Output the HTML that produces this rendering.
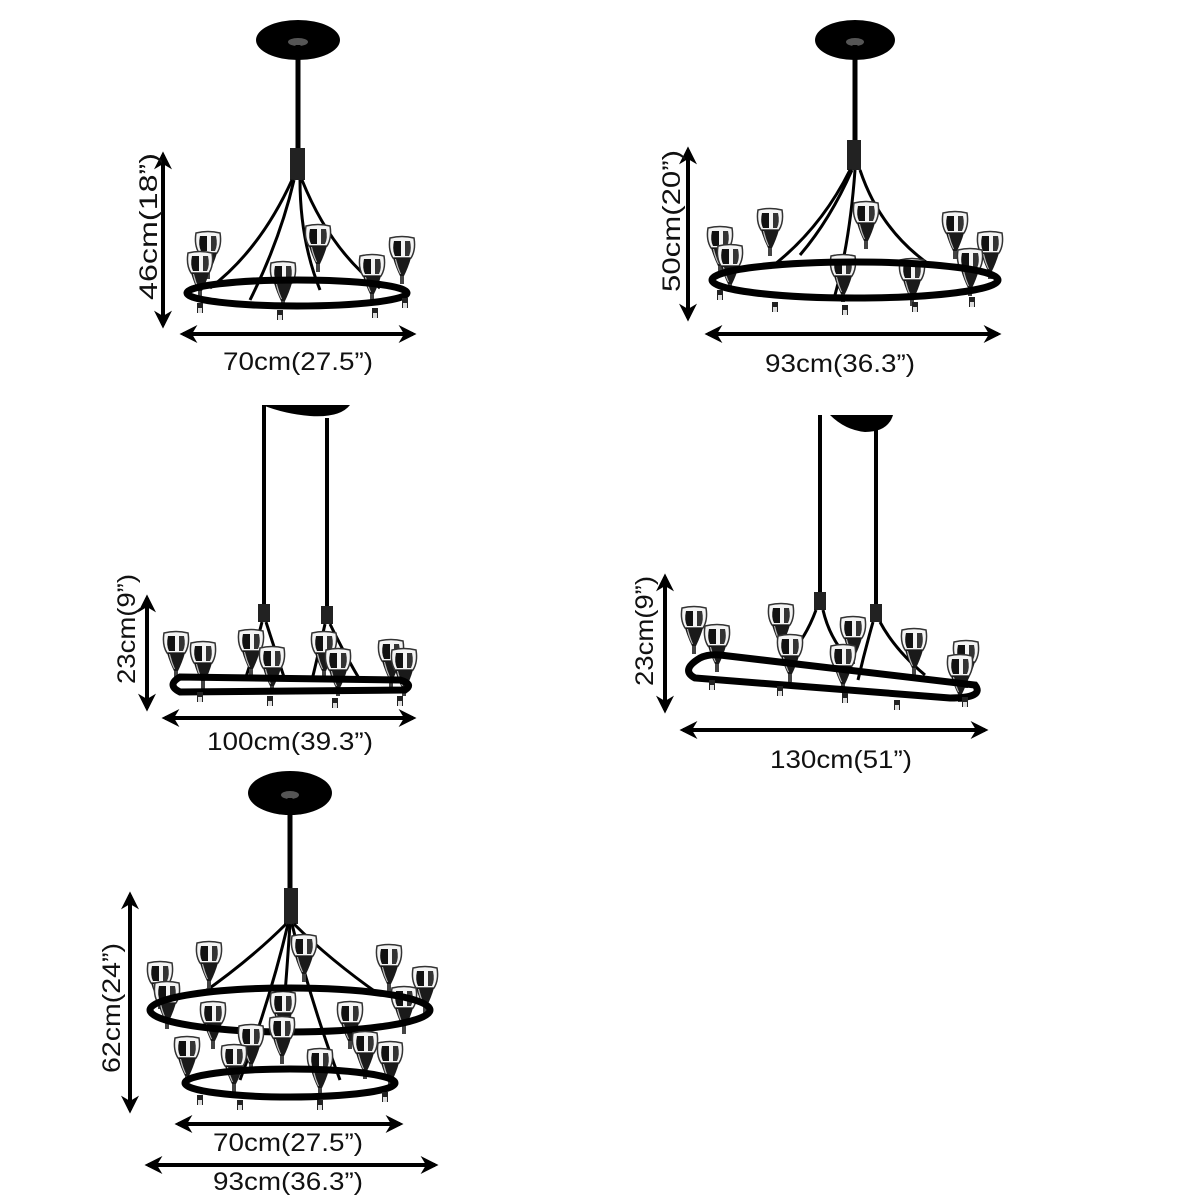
<!DOCTYPE html>
<html><head><meta charset="utf-8"><style>
html,body{margin:0;padding:0;background:#fff;}
svg{display:block}
text{font-family:"Liberation Sans",sans-serif;font-size:25px;fill:#111;}
</style></head><body>
<svg width="1200" height="1200" viewBox="0 0 1200 1200" xmlns="http://www.w3.org/2000/svg">
<defs>
<marker id="ah" viewBox="0 0 10 10" refX="8" refY="5" markerWidth="4.5" markerHeight="4.5" orient="auto-start-reverse"><path d="M0,0 L10,5 L0,10 L3,5 z" fill="#000"/></marker>
<g id="lamp">
<path d="M-12,-12 Q-14,0 -9,8 L9,8 Q14,0 12,-12 Q0,-15 -12,-12 z" fill="#f4f4f4" stroke="#333" stroke-width="1.5"/>
<path d="M-8,-9 L-1,-9 L-1,6 L-7,6 Q-10,0 -8,-9z" fill="#111"/>
<path d="M3,-9 L8,-9 Q10,0 7,6 L3,6z" fill="#333"/>
<path d="M-9,8 L9,8 Q6,18 2,26 L-2,26 Q-6,18 -9,8z" fill="#1a1a1a"/>
<path d="M-6,9 Q-4,17 -1,24 L-2,24 Q-6,16 -7,9z" fill="#bbb"/>
<rect x="-2" y="26" width="4" height="8" fill="#444"/>
</g>
<g id="bead"><rect x="-3" y="0" width="6" height="10" fill="#222"/><rect x="-2" y="5" width="4" height="5" fill="#ddd"/></g>
</defs>
<g stroke="#000" stroke-width="4" fill="none" marker-start="url(#ah)" marker-end="url(#ah)">
<line x1="163" y1="155" x2="163" y2="325"/>
<line x1="183" y1="334" x2="413" y2="334"/>
<line x1="688" y1="150" x2="688" y2="318"/>
<line x1="708" y1="334" x2="998" y2="334"/>
<line x1="147" y1="598" x2="147" y2="708"/>
<line x1="165" y1="718" x2="413" y2="718"/>
<line x1="665" y1="577" x2="665" y2="710"/>
<line x1="683" y1="730" x2="985" y2="730"/>
<line x1="130" y1="895" x2="130" y2="1110"/>
<line x1="178" y1="1124" x2="400" y2="1124"/>
<line x1="148" y1="1165" x2="435" y2="1165"/>
</g>
<text x="223" y="370" textLength="150" lengthAdjust="spacingAndGlyphs">70cm(27.5”)</text>
<text x="765" y="372" textLength="150" lengthAdjust="spacingAndGlyphs">93cm(36.3”)</text>
<text x="207" y="750" textLength="166" lengthAdjust="spacingAndGlyphs">100cm(39.3”)</text>
<text x="770" y="768" textLength="142" lengthAdjust="spacingAndGlyphs">130cm(51”)</text>
<text x="213" y="1151" textLength="150" lengthAdjust="spacingAndGlyphs">70cm(27.5”)</text>
<text x="213" y="1190" textLength="150" lengthAdjust="spacingAndGlyphs">93cm(36.3”)</text>
<text transform="translate(157,300) rotate(-90)" textLength="147" lengthAdjust="spacingAndGlyphs">46cm(18”)</text>
<text transform="translate(680,292) rotate(-90)" textLength="142" lengthAdjust="spacingAndGlyphs">50cm(20”)</text>
<text transform="translate(135,684) rotate(-90)" textLength="110" lengthAdjust="spacingAndGlyphs">23cm(9”)</text>
<text transform="translate(653,686) rotate(-90)" textLength="110" lengthAdjust="spacingAndGlyphs">23cm(9”)</text>
<text transform="translate(120,1073) rotate(-90)" textLength="130" lengthAdjust="spacingAndGlyphs">62cm(24”)</text>

<!-- 1 -->
<ellipse cx="298" cy="40" rx="42" ry="20" fill="#000"/>
<ellipse cx="298" cy="42" rx="10" ry="4" fill="#555"/>
<line x1="298" y1="45" x2="298" y2="150" stroke="#000" stroke-width="5"/>
<rect x="290" y="148" width="15" height="32" fill="#222"/>
<g stroke="#000" stroke-width="3" fill="none">
<path d="M294,180 Q280,240 250,300"/><path d="M300,180 Q300,240 320,290"/><path d="M302,180 Q330,250 380,288"/><path d="M292,180 Q260,250 210,288"/>
</g>
<use href="#lamp" x="208" y="245"/><use href="#lamp" x="200" y="265"/><use href="#lamp" x="318" y="238"/><use href="#lamp" x="402" y="250"/><use href="#lamp" x="372" y="268"/><use href="#lamp" x="283" y="275"/>
<ellipse cx="297" cy="293" rx="110" ry="13" fill="none" stroke="#000" stroke-width="7"/>
<use href="#bead" x="200" y="303"/><use href="#bead" x="280" y="310"/><use href="#bead" x="375" y="308"/><use href="#bead" x="405" y="298"/>

<!-- 2 -->
<ellipse cx="855" cy="40" rx="40" ry="20" fill="#000"/>
<ellipse cx="855" cy="42" rx="9" ry="4" fill="#555"/>
<line x1="855" y1="45" x2="855" y2="142" stroke="#000" stroke-width="5"/>
<rect x="847" y="140" width="14" height="30" fill="#222"/>
<g stroke="#000" stroke-width="3" fill="none">
<path d="M850,170 Q820,230 770,268"/><path d="M855,170 Q850,240 835,295"/><path d="M860,170 Q880,230 930,265"/><path d="M852,170 Q830,220 800,255"/>
</g>
<use href="#lamp" x="720" y="240"/><use href="#lamp" x="730" y="258"/><use href="#lamp" x="770" y="222"/><use href="#lamp" x="866" y="215"/><use href="#lamp" x="955" y="225"/><use href="#lamp" x="990" y="245"/><use href="#lamp" x="970" y="262"/><use href="#lamp" x="912" y="272"/><use href="#lamp" x="843" y="268"/>
<ellipse cx="855" cy="280" rx="143" ry="18" fill="none" stroke="#000" stroke-width="7"/>
<use href="#bead" x="720" y="290"/><use href="#bead" x="775" y="302"/><use href="#bead" x="845" y="305"/><use href="#bead" x="915" y="302"/><use href="#bead" x="972" y="297"/>

<!-- 3 -->
<path d="M262,405 L350,405 Q340,418 310,416 Q285,414 262,405z" fill="#000"/>
<line x1="264" y1="405" x2="264" y2="608" stroke="#000" stroke-width="4"/>
<line x1="327" y1="418" x2="327" y2="610" stroke="#000" stroke-width="4"/>
<rect x="258" y="604" width="12" height="18" fill="#222"/><rect x="321" y="606" width="12" height="18" fill="#222"/>
<g stroke="#000" stroke-width="3" fill="none"><path d="M262,622 Q255,650 245,680"/><path d="M266,622 Q275,650 285,680"/><path d="M325,624 Q318,655 312,680"/><path d="M330,624 Q345,655 360,680"/></g>
<use href="#lamp" x="176" y="645"/><use href="#lamp" x="203" y="655"/><use href="#lamp" x="251" y="643"/><use href="#lamp" x="272" y="660"/><use href="#lamp" x="324" y="645"/><use href="#lamp" x="338" y="662"/><use href="#lamp" x="391" y="653"/><use href="#lamp" x="404" y="662"/>
<path d="M180,677 L400,680 Q414,684 405,690 L180,692 Q166,685 180,677z" fill="none" stroke="#000" stroke-width="7"/>
<use href="#bead" x="200" y="692"/><use href="#bead" x="270" y="696"/><use href="#bead" x="335" y="698"/><use href="#bead" x="400" y="696"/>

<!-- 4 -->
<path d="M830,415 L893,415 Q888,432 865,432 Q845,430 830,415z" fill="#000"/>
<line x1="820" y1="415" x2="820" y2="595" stroke="#000" stroke-width="4"/>
<line x1="876" y1="428" x2="876" y2="607" stroke="#000" stroke-width="4"/>
<rect x="814" y="592" width="12" height="18" fill="#222"/><rect x="870" y="604" width="12" height="18" fill="#222"/>
<g stroke="#000" stroke-width="3" fill="none"><path d="M816,610 Q805,640 785,660"/><path d="M823,610 Q830,640 850,660"/><path d="M873,622 Q865,650 858,680"/><path d="M880,622 Q895,650 925,675"/></g>
<use href="#lamp" x="694" y="620"/><use href="#lamp" x="717" y="638"/><use href="#lamp" x="781" y="617"/><use href="#lamp" x="790" y="648"/><use href="#lamp" x="853" y="630"/><use href="#lamp" x="843" y="658"/><use href="#lamp" x="914" y="642"/><use href="#lamp" x="966" y="654"/><use href="#lamp" x="960" y="668"/>
<path d="M700,658 Q680,670 695,678 L950,698 Q985,698 975,685 L720,655 Q708,654 700,658z" fill="none" stroke="#000" stroke-width="7"/>
<use href="#bead" x="712" y="680"/><use href="#bead" x="780" y="686"/><use href="#bead" x="845" y="693"/><use href="#bead" x="897" y="700"/><use href="#bead" x="965" y="697"/>

<!-- 5 -->
<ellipse cx="290" cy="793" rx="42" ry="22" fill="#000"/>
<ellipse cx="290" cy="795" rx="9" ry="4" fill="#555"/>
<line x1="290" y1="798" x2="290" y2="890" stroke="#000" stroke-width="5"/>
<rect x="284" y="888" width="14" height="36" fill="#222"/>
<g stroke="#000" stroke-width="3" fill="none">
<path d="M286,924 Q250,960 200,995"/><path d="M294,924 Q330,960 380,995"/><path d="M288,924 Q270,1000 240,1080"/><path d="M292,924 Q310,1000 340,1080"/><path d="M290,924 Q285,1000 280,1050"/>
</g>
<use href="#lamp" x="160" y="975"/><use href="#lamp" x="167" y="995"/><use href="#lamp" x="209" y="955"/><use href="#lamp" x="304" y="948"/><use href="#lamp" x="389" y="958"/><use href="#lamp" x="425" y="980"/><use href="#lamp" x="404" y="1000"/><use href="#lamp" x="213" y="1015"/><use href="#lamp" x="283" y="1005"/><use href="#lamp" x="350" y="1015"/>
<ellipse cx="290" cy="1010" rx="140" ry="22" fill="none" stroke="#000" stroke-width="7"/>
<use href="#lamp" x="187" y="1050"/><use href="#lamp" x="251" y="1038"/><use href="#lamp" x="234" y="1058"/><use href="#lamp" x="320" y="1062"/><use href="#lamp" x="365" y="1045"/><use href="#lamp" x="390" y="1055"/><use href="#lamp" x="282" y="1030"/>
<ellipse cx="290" cy="1083" rx="105" ry="14" fill="none" stroke="#000" stroke-width="7"/>
<use href="#bead" x="200" y="1095"/><use href="#bead" x="240" y="1100"/><use href="#bead" x="320" y="1100"/><use href="#bead" x="385" y="1092"/>
</svg>
</body></html>
